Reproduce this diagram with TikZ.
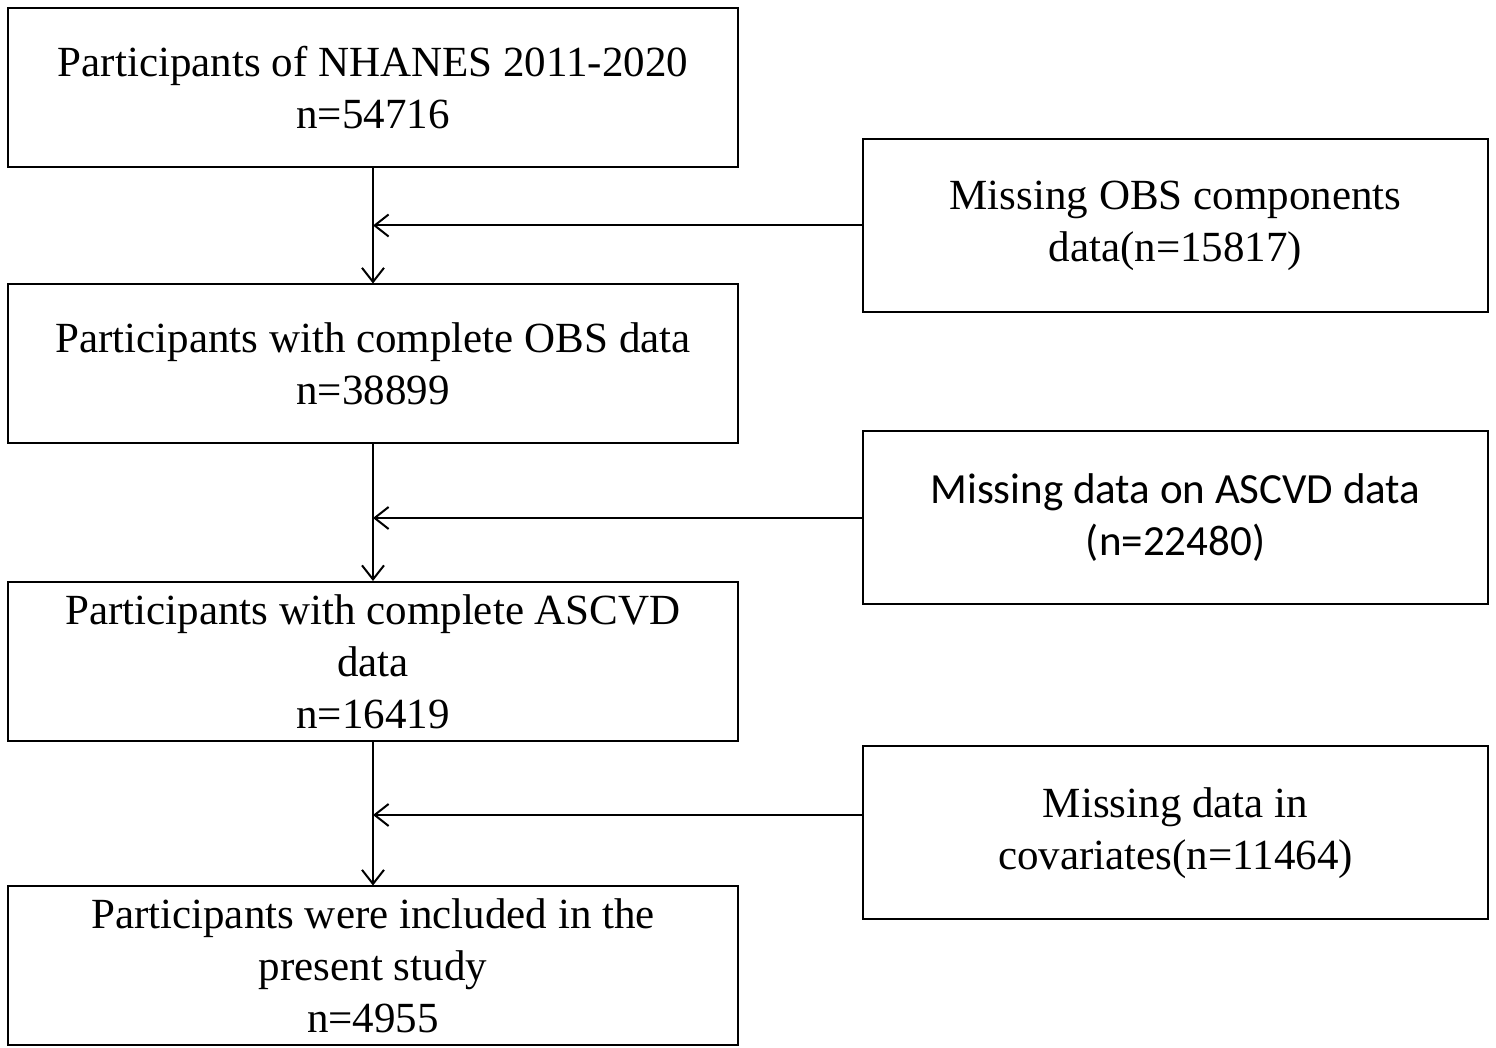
\documentclass[tikz,border=0pt]{standalone}
\usepackage{fontspec}
\setmainfont{Liberation Serif}
\newfontfamily\calfont{Carlito}
\usetikzlibrary{arrows.meta}
\begin{document}
\begin{tikzpicture}[x=1pt,y=1pt,line width=2pt,
 >={Straight Barb[length=14pt,width=22pt,line width=2pt]},
 font=\fontsize{43}{52}\selectfont,
 leftbox/.style={draw,minimum width=730pt,minimum height=159pt,align=center,inner sep=0pt},
 rightbox/.style={draw,minimum width=625pt,minimum height=173pt,align=center,inner sep=0pt}]
\useasboundingbox (0,0) rectangle (1496,1048);
% main flow, left column
\node[leftbox] (b1) at (373,960.5) {Participants of NHANES 2011-2020\\n=54716};
\node[leftbox] (b2) at (373,684) {Participants with complete OBS data\\n=38899};
\node[leftbox] (b3) at (373,386.5) {Participants with complete ASCVD\\data\\n=16419};
\node[leftbox] (b4) at (373,82) {Participants were included in the\\present study\\n=4955};
% exclusions, right column
\node[rightbox] (r1) at (1175.5,822.5) {Missing OBS components\\data(n=15817)};
\node[rightbox] (r2) at (1175.5,530) {\calfont Missing data on ASCVD data\\\calfont(n=22480)};
\node[rightbox] (r3) at (1175.5,215) {Missing data in\\covariates(n=11464)};
% arrows
\draw[->] (b1.south) -- (b2.north);
\draw[->] (b2.south) -- (b3.north);
\draw[->] (b3.south) -- (b4.north);
\draw[->] (r1.west) -- (r1.west -| b1.south);
\draw[->] (r2.west) -- (r2.west -| b2.south);
\coordinate (r3in) at ([yshift=18pt]r3.west);
\draw[->] (r3in) -- (r3in -| b3.south);
\end{tikzpicture}
\end{document}
